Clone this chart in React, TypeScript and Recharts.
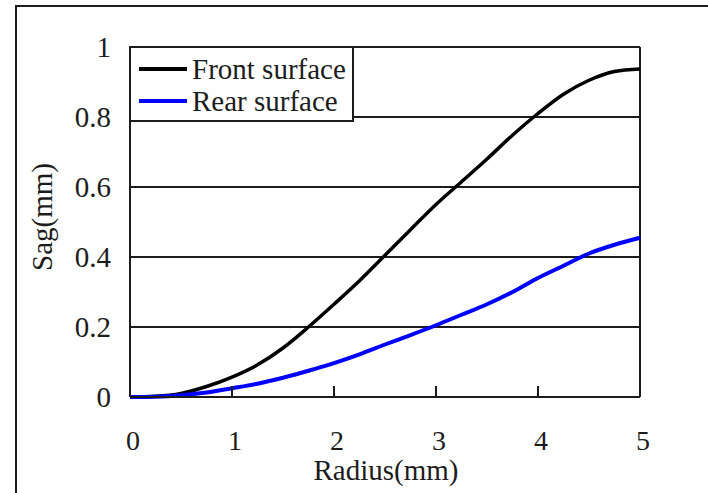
import React from "react";
import {
  LineChart,
  Line,
  XAxis,
  YAxis,
  CartesianGrid,
  ReferenceLine,
} from "recharts";

// sag profile of both lens surfaces, sampled every 0.25 mm of radius
const radiusMm = [
  0, 0.25, 0.5, 0.75, 1, 1.25, 1.5, 1.75, 2, 2.25, 2.5, 2.75, 3, 3.25, 3.5,
  3.75, 4, 4.25, 4.5, 4.75, 5,
];
const frontSag = [
  0, 0.002, 0.01, 0.03, 0.057, 0.092, 0.14, 0.2, 0.265, 0.332, 0.405, 0.478,
  0.55, 0.615, 0.68, 0.748, 0.81, 0.865, 0.905, 0.93, 0.937,
];
const rearSag = [
  0, 0.001, 0.005, 0.013, 0.025, 0.038, 0.055, 0.075, 0.097, 0.122, 0.15,
  0.177, 0.205, 0.235, 0.265, 0.3, 0.34, 0.375, 0.41, 0.435, 0.455,
];

const xTicks = [0, 1, 2, 3, 4, 5];
const yTicks = [0, 0.2, 0.4, 0.6, 0.8, 1];

const seriesNames = ["Front surface", "Rear surface"];
const seriesColors = ["#000000", "#0000ff"];

const data = radiusMm.map((r, i) => ({
  r,
  front: frontSag[i],
  rear: rearSag[i],
}));

const FONT = '"Liberation Serif", "Times New Roman", serif';
const INK = "#1c1c1c";
const FS = 29;

function XTick({ x, y, payload }: { x?: number; y?: number; payload?: { value: number } }) {
  const v = payload?.value ?? 0;
  const inner = v !== 0 && v !== 5;
  return (
    <g>
      {inner && (
        <line x1={x} x2={x} y1={y} y2={(y ?? 0) - 11} stroke={INK} strokeWidth={2} />
      )}
      <text
        x={(x ?? 0) + 3}
        y={(y ?? 0) + 53}
        textAnchor="middle"
        fontSize={28}
        fontFamily={FONT}
        fill={INK}
      >
        {v}
      </text>
    </g>
  );
}

// boxed legend sitting in the top-left corner of the plot
function SurfaceLegend() {
  return (
    <div
      style={{
        position: "absolute",
        left: 129,
        top: 46,
        width: 221,
        height: 72,
        border: `2px solid ${INK}`,
        background: "#fff",
        fontFamily: FONT,
        fontSize: FS,
        color: INK,
      }}
    >
      {seriesNames.map((name, i) => (
        <div
          key={name}
          style={{
            position: "absolute",
            left: 8,
            top: 5 + i * 32,
            height: 32,
            display: "flex",
            alignItems: "center",
            whiteSpace: "nowrap",
            lineHeight: "32px",
          }}
        >
          <span
            style={{
              display: "inline-block",
              width: 48,
              height: 4,
              background: seriesColors[i],
              marginRight: 5,
            }}
          />
          {name}
        </div>
      ))}
    </div>
  );
}

export default function App() {
  return (
    <div
      style={{
        position: "absolute",
        left: 0,
        top: 0,
        width: 708,
        height: 493,
        background: "#fff",
        overflow: "hidden",
      }}
    >
      <div
        style={{
          position: "absolute",
          left: 15,
          top: 5,
          width: 720,
          height: 520,
          borderLeft: `2px solid ${INK}`,
          borderTop: `2px solid ${INK}`,
        }}
      />
      <LineChart
        width={708}
        height={493}
        data={data}
        margin={{ top: 47, right: 68, bottom: 0, left: 0 }}
        style={{ position: "absolute", left: 0, top: 0 }}
      >
        <CartesianGrid
          vertical={false}
          stroke={INK}
          strokeWidth={2}
          horizontalValues={yTicks}
        />
        <XAxis
          dataKey="r"
          type="number"
          domain={[0, 5]}
          ticks={xTicks}
          height={96}
          tickSize={0}
          tickMargin={0}
          tickLine={false}
          axisLine={{ stroke: INK, strokeWidth: 2 }}
          tick={<XTick />}
          label={{
            content: () => (
              <text
                x={386}
                y={480}
                textAnchor="middle"
                fontSize={FS}
                fontFamily={FONT}
                fill={INK}
              >
                Radius(mm)
              </text>
            ),
          }}
        />
        <YAxis
          type="number"
          domain={[0, 1]}
          ticks={yTicks}
          width={130}
          tickSize={0}
          tickMargin={19}
          tickLine={false}
          axisLine={{ stroke: INK, strokeWidth: 2 }}
          tick={{ fontSize: FS, fontFamily: FONT, fill: INK }}
          label={{
            content: () => (
              <text
                x={42}
                y={217}
                transform="rotate(-90 42 217)"
                textAnchor="middle"
                dominantBaseline="central"
                fontSize={FS}
                fontFamily={FONT}
                fill={INK}
              >
                Sag(mm)
              </text>
            ),
          }}
        />
        <ReferenceLine x={5} stroke={INK} strokeWidth={2} />
        <Line
          type="monotone"
          dataKey="front"
          stroke={seriesColors[0]}
          strokeWidth={3.5}
          dot={false}
          isAnimationActive={false}
        />
        <Line
          type="monotone"
          dataKey="rear"
          stroke={seriesColors[1]}
          strokeWidth={4}
          dot={false}
          isAnimationActive={false}
        />
      </LineChart>
      <SurfaceLegend />
    </div>
  );
}
